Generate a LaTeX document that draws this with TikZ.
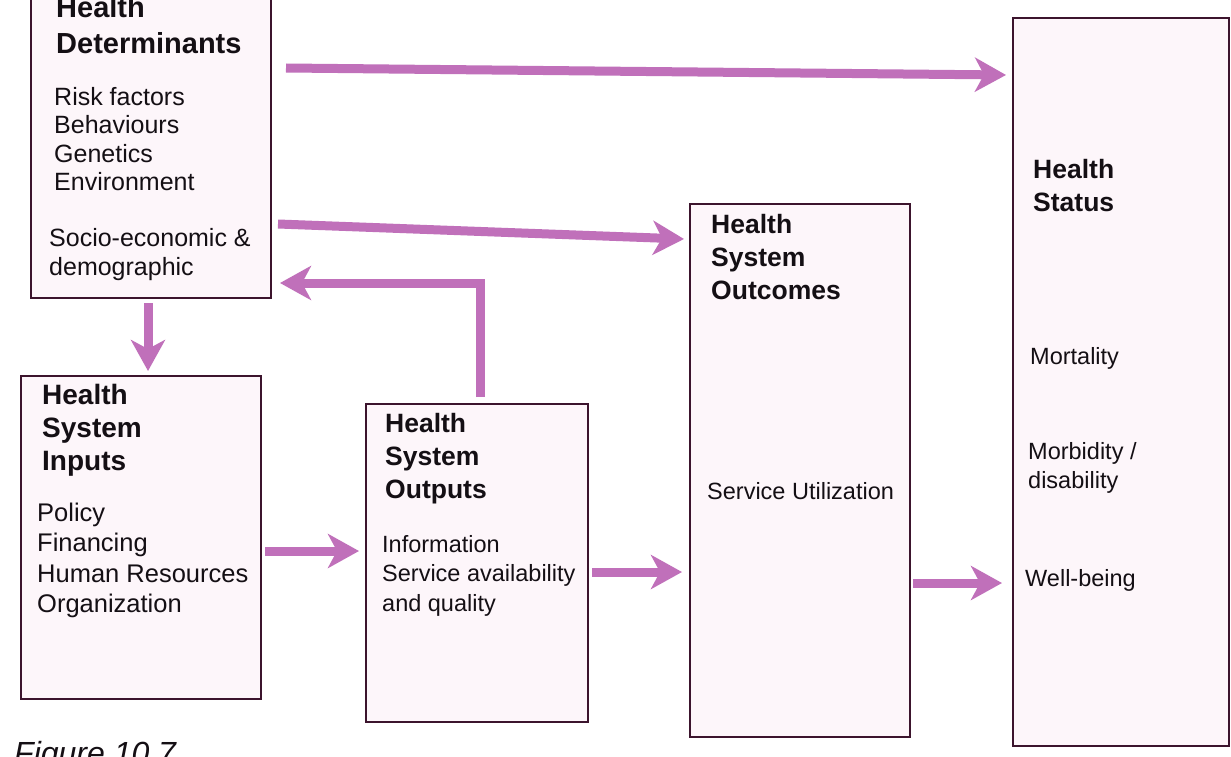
\documentclass[tikz,border=0pt]{standalone}
\usepackage{fontspec}
\setmainfont{Liberation Sans}
\usetikzlibrary{arrows.meta,calc}
\definecolor{boxline}{RGB}{60,20,45}
\definecolor{boxfill}{RGB}{253,246,250}
\definecolor{arr}{RGB}{192,112,186}
\definecolor{ink}{RGB}{20,15,20}
\begin{document}
\begin{tikzpicture}[x=1pt,y=-1pt,
  box/.style={draw=boxline, line width=2pt, fill=boxfill, anchor=north west, inner sep=0pt},
  ttl/.style={anchor=base west, align=left, inner sep=0pt, text=ink, font=\fontsize{26.5}{33}\selectfont\bfseries},
  body/.style={anchor=base west, align=left, inner sep=0pt, text=ink, font=\fontsize{23.5}{29.5}\selectfont},
  flow/.style={draw=arr, line width=9pt, -{Stealth[length=31pt,width=34pt,inset=9pt]}}]
\clip (0,0) rectangle (1231,757);
\fill[white] (0,0) rectangle (1231,757);

% boxes
\node[box, minimum width=240pt, minimum height=305pt] (det) at (30,-8) {};
\node[box, minimum width=240pt, minimum height=323pt] (inp) at (20,375) {};
\node[box, minimum width=222pt, minimum height=318pt] (out) at (365,403) {};
\node[box, minimum width=220pt, minimum height=533pt] (oc) at (689,203) {};
\node[box, minimum width=216pt, minimum height=728pt] (st) at (1012,17) {};

% texts (anchor = baseline of the last line)
\node[ttl, font=\fontsize{29}{36}\selectfont\bfseries] (detT) at (56,54) {Health\\Determinants};
\node[body, font=\fontsize{25}{28.5}\selectfont] (detB1) at (54,190.5) {Risk factors\\Behaviours\\Genetics\\Environment};
\node[body, font=\fontsize{25}{29.5}\selectfont] (detB2) at (49,275.5) {Socio-economic \&\\demographic};

\node[ttl, font=\fontsize{28}{33}\selectfont\bfseries] (inpT) at (42,470) {Health\\System\\Inputs};
\node[body, font=\fontsize{25.5}{30.5}\selectfont] (inpB) at (37,612.5) {Policy\\Financing\\Human Resources\\Organization};

\node[ttl] (outT) at (385,498) {Health\\System\\Outputs};
\node[body] (outB) at (382,611) {Information\\Service availability\\and quality};

\node[ttl] (ocT) at (711,299) {Health\\System\\Outcomes};
\node[body] (ocB) at (707,499) {Service Utilization};

\node[ttl] (stT) at (1033,211) {Health\\Status};
\node[body] (stB1) at (1030,364) {Mortality};
\node[body] (stB2) at (1028,488.5) {Morbidity /\\disability};
\node[body] (stB3) at (1025,586) {Well-being};

\node[anchor=base west, inner sep=0pt, text=ink, font=\fontsize{32}{32}\selectfont\itshape] (cap) at (14,764) {Figure 10.7};

% connectors
\draw[flow] ($(det.north east)+(14,76)$) -- ($(st.north west)+(-6,58)$);
\draw[flow] ($(det.north east)+(6,232)$) -- ($(oc.north west)+(-5,36)$);
\coordinate (fbS) at ($(out.north)+(3,-6)$);
\coordinate (fbE) at ($(det.north east)+(8,291)$);
\draw[flow] (fbS) |- (fbE);
\draw[flow] ($(det.south)+(-3,4)$) -- ($(inp.north)+(7,-4)$);
\draw[flow] ($(inp.north east)+(3,176)$) -- ($(out.north west)+(-6,148)$);
\draw[flow] ($(out.north east)+(3,169)$) -- ($(oc.north west)+(-7,369)$);
\draw[flow] ($(oc.north east)+(2,380)$) -- ($(st.north west)+(-10,566)$);
\end{tikzpicture}
\end{document}
